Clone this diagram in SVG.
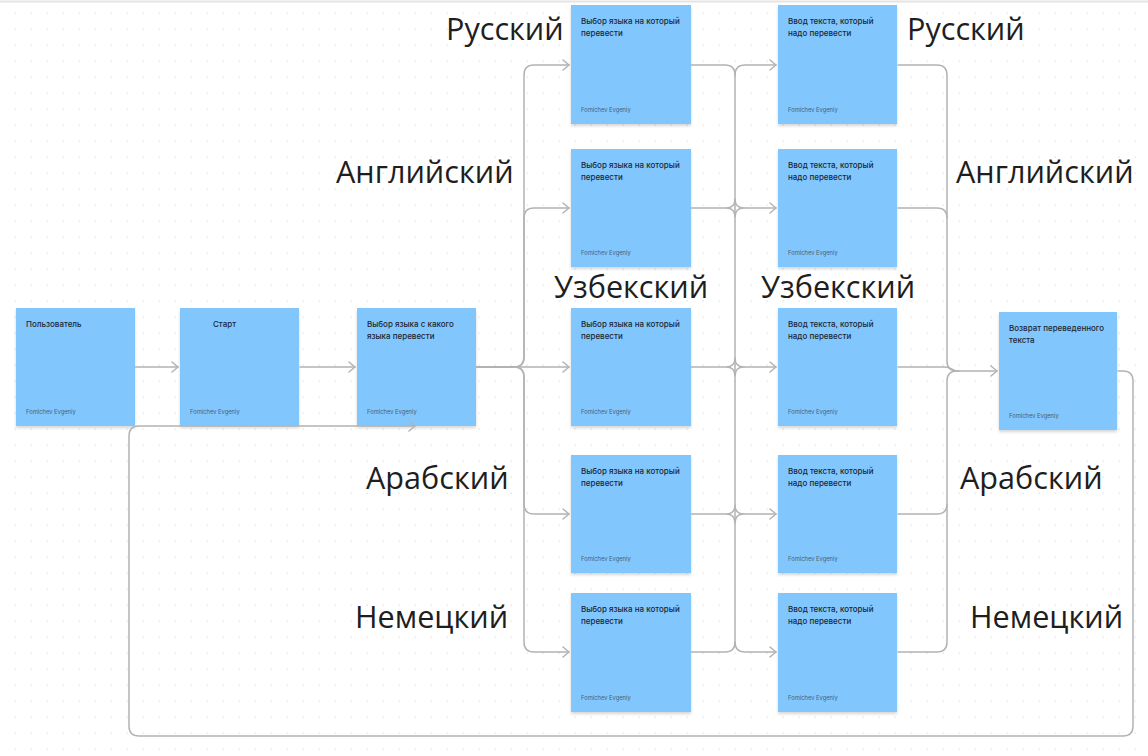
<svg xmlns="http://www.w3.org/2000/svg" width="1148" height="756" viewBox="0 0 1148 756">
  <defs>
    <pattern id="dots" x="0" y="0" width="16" height="16" patternUnits="userSpaceOnUse">
      <rect x="14.6" y="12.6" width="1" height="1" fill="#c9c9c9"/>
    </pattern>
    <filter id="shadow" x="-10%" y="-10%" width="130%" height="130%">
      <feDropShadow dx="0" dy="2" stdDeviation="1.5" flood-color="#000" flood-opacity="0.16"/>
    </filter>
    <marker id="arr" markerUnits="userSpaceOnUse" markerWidth="8" markerHeight="12" viewBox="0 0 8 12" refX="7" refY="6" orient="auto">
      <path d="M1,1 L7,6 L1,11" fill="none" stroke="#b3b3b3" stroke-width="1.5" stroke-linecap="round" stroke-linejoin="round"/>
    </marker>
    <style>
      .note { fill: #81c7fe; filter: url(#shadow); }
      .title { font-family: Inter, Roboto, "Liberation Sans", sans-serif; font-size: 8px; font-weight: 500; fill: #1d2633; }
      .author { font-family: Inter, Roboto, "Liberation Sans", sans-serif; font-size: 5.8px; fill: #4a6075; }
      .lang { font-family: "Open Sans", "Noto Sans", "DejaVu Sans", sans-serif; font-size: 30.6px; fill: #1e1e1e; }
      .conn { fill: none; stroke: #b3b3b3; stroke-width: 1.5; stroke-linecap: round; stroke-linejoin: round; }
      .arrow { marker-end: url(#arr); }
    </style>
  </defs>

  <rect x="0" y="0" width="1148" height="756" fill="#ffffff"/>
  <rect x="0" y="0" width="1148" height="756" fill="url(#dots)"/>
  <line x1="0" y1="1.5" x2="1148" y2="1.5" stroke="#e4e4e4" stroke-width="2"/>

  <!-- Nodes -->
  <g id="node-user">
    <rect class="note" x="16" y="308" width="119" height="118"/>
    <text class="title" x="26" y="327">Пользователь</text>
    <text class="author" x="26" y="414">Fomichev Evgeniy</text>
  </g>
  <g id="node-start">
    <rect class="note" x="180" y="308" width="119" height="118"/>
    <text class="title" x="213" y="327">Старт</text>
    <text class="author" x="190" y="414">Fomichev Evgeniy</text>
  </g>
  <g id="node-source-lang">
    <rect class="note" x="357" y="308" width="119" height="118"/>
    <text class="title" x="367" y="327">Выбор языка с какого</text>
    <text class="title" x="367" y="338.5">языка перевести</text>
    <text class="author" x="367" y="414">Fomichev Evgeniy</text>
  </g>

  <g id="node-target-ru">
    <rect class="note" x="571" y="5" width="120" height="119"/>
    <text class="title" x="581" y="24">Выбор языка на который</text>
    <text class="title" x="581" y="35.5">перевести</text>
    <text class="author" x="581" y="112">Fomichev Evgeniy</text>
  </g>
  <g id="node-target-en">
    <rect class="note" x="571" y="149" width="120" height="118"/>
    <text class="title" x="581" y="168">Выбор языка на который</text>
    <text class="title" x="581" y="179.5">перевести</text>
    <text class="author" x="581" y="255">Fomichev Evgeniy</text>
  </g>
  <g id="node-target-uz">
    <rect class="note" x="571" y="308" width="120" height="118"/>
    <text class="title" x="581" y="327">Выбор языка на который</text>
    <text class="title" x="581" y="338.5">перевести</text>
    <text class="author" x="581" y="414">Fomichev Evgeniy</text>
  </g>
  <g id="node-target-ar">
    <rect class="note" x="571" y="455" width="120" height="118"/>
    <text class="title" x="581" y="474">Выбор языка на который</text>
    <text class="title" x="581" y="485.5">перевести</text>
    <text class="author" x="581" y="561">Fomichev Evgeniy</text>
  </g>
  <g id="node-target-de">
    <rect class="note" x="571" y="593" width="120" height="119"/>
    <text class="title" x="581" y="612">Выбор языка на который</text>
    <text class="title" x="581" y="623.5">перевести</text>
    <text class="author" x="581" y="700">Fomichev Evgeniy</text>
  </g>

  <g id="node-input-ru">
    <rect class="note" x="778" y="5" width="119" height="119"/>
    <text class="title" x="788" y="24">Ввод текста, который</text>
    <text class="title" x="788" y="35.5">надо перевести</text>
    <text class="author" x="788" y="112">Fomichev Evgeniy</text>
  </g>
  <g id="node-input-en">
    <rect class="note" x="778" y="149" width="119" height="118"/>
    <text class="title" x="788" y="168">Ввод текста, который</text>
    <text class="title" x="788" y="179.5">надо перевести</text>
    <text class="author" x="788" y="255">Fomichev Evgeniy</text>
  </g>
  <g id="node-input-uz">
    <rect class="note" x="778" y="308" width="119" height="118"/>
    <text class="title" x="788" y="327">Ввод текста, который</text>
    <text class="title" x="788" y="338.5">надо перевести</text>
    <text class="author" x="788" y="414">Fomichev Evgeniy</text>
  </g>
  <g id="node-input-ar">
    <rect class="note" x="778" y="455" width="119" height="118"/>
    <text class="title" x="788" y="474">Ввод текста, который</text>
    <text class="title" x="788" y="485.5">надо перевести</text>
    <text class="author" x="788" y="561">Fomichev Evgeniy</text>
  </g>
  <g id="node-input-de">
    <rect class="note" x="778" y="593" width="119" height="119"/>
    <text class="title" x="788" y="612">Ввод текста, который</text>
    <text class="title" x="788" y="623.5">надо перевести</text>
    <text class="author" x="788" y="700">Fomichev Evgeniy</text>
  </g>

  <g id="node-result">
    <rect class="note" x="999" y="312" width="118" height="118"/>
    <text class="title" x="1009" y="331">Возврат переведенного</text>
    <text class="title" x="1009" y="342.5">текста</text>
    <text class="author" x="1009" y="418">Fomichev Evgeniy</text>
  </g>

  <!-- Labels -->
  <g id="labels">
    <text class="lang" x="446" y="40">Русский</text>
    <text class="lang" x="336" y="183">Английский</text>
    <text class="lang" x="554" y="298">Узбекский</text>
    <text class="lang" x="366" y="489">Арабский</text>
    <text class="lang" x="355" y="628">Немецкий</text>
    <text class="lang" x="907" y="40">Русский</text>
    <text class="lang" x="956" y="183">Английский</text>
    <text class="lang" x="761" y="298">Узбекский</text>
    <text class="lang" x="960" y="489">Арабский</text>
    <text class="lang" x="970" y="628">Немецкий</text>
  </g>

  <!-- Connectors -->
  <g id="connectors">
    <path class="conn arrow" d="M135,367 H178"/>
    <path class="conn arrow" d="M300,367 H355"/>

    <!-- source language to target languages -->
    <path class="conn arrow" d="M477,367 H569"/>
    <path class="conn arrow" d="M477,367 H514 Q524,367 524,357 V75 Q524,65 534,65 H569"/>
    <path class="conn arrow" d="M477,367 H514 Q524,367 524,357 V218 Q524,208 534,208 H569"/>
    <path class="conn arrow" d="M477,367 H514 Q524,367 524,377 V504 Q524,514 534,514 H569"/>
    <path class="conn arrow" d="M477,367 H514 Q524,367 524,377 V642 Q524,652 534,652 H569"/>

    <!-- target languages to text input -->
    <path class="conn" d="M735,75 V642"/>
    <path class="conn" d="M691,65 H725 Q735,65 735,75"/>
    <path class="conn arrow" d="M735,75 Q735,65 745,65 H776"/>
    <path class="conn" d="M691,652 H725 Q735,652 735,642"/>
    <path class="conn arrow" d="M735,642 Q735,652 745,652 H776"/>
    <path class="conn" d="M691,208 H726 Q735,208 735,199 Q735,208 744,208 Q735,208 735,217 Q735,208 726,208"/>
    <path class="conn arrow" d="M744,208 H776"/>
    <path class="conn" d="M691,367 H726 Q735,367 735,358 Q735,367 744,367 Q735,367 735,376 Q735,367 726,367"/>
    <path class="conn arrow" d="M744,367 H776"/>
    <path class="conn" d="M691,514 H726 Q735,514 735,505 Q735,514 744,514 Q735,514 735,523 Q735,514 726,514"/>
    <path class="conn arrow" d="M744,514 H776"/>

    <!-- text input to result -->
    <path class="conn" d="M898,65 H937 Q947,65 947,75 V361 Q947,371 957,371"/>
    <path class="conn" d="M898,208 H937 Q947,208 947,218"/>
    <path class="conn" d="M898,652 H937 Q947,652 947,642 V381 Q947,371 957,371"/>
    <path class="conn" d="M898,514 H937 Q947,514 947,504"/>
    <path class="conn" d="M898,367 H944 Q949,367 952,369 Q955,371 959,371"/>
    <path class="conn arrow" d="M957,371 H997"/>

    <!-- loop back -->
    <path class="conn arrow" d="M1118,371 H1123 Q1133,371 1133,381 V726 Q1133,736 1123,736 H139 Q129,736 129,726 V436 Q129,426 139,426 H415"/>
  </g>
</svg>
